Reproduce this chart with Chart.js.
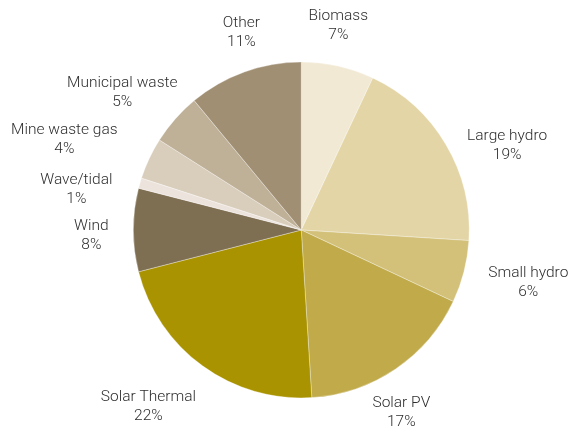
<!DOCTYPE html>
<html>
<head>
<meta charset="utf-8">
<script src="https://cdn.jsdelivr.net/npm/chart.js@4/dist/chart.umd.min.js"></script>
<style>
html,body{margin:0;padding:0;background:#fff;}
#wrap{width:569px;height:429px;position:relative;}
</style>
</head>
<body>
<div id="wrap"><canvas id="c" width="569" height="429"></canvas></div>
<script>
// ---- data ----
const categories = ["Biomass","Large hydro","Small hydro","Solar PV","Solar Thermal","Wind","Wave/tidal","Mine waste gas","Municipal waste","Other"];
const shares = [7,19,6,17,22,8,1,4,5,11];
const colours = ["#F2E9D4","#E3D5A6","#D3C17A","#C0AA4A","#AA9300","#7F6F52","#EDE3DD","#D9CDBB","#BFB098","#A08F73"];

// ---- label layout (angle shift in degrees from slice middle, distance as multiple of radius) ----
const labelAngleShift = [-2.3, 8.4, -1.3, 5.5, 4.8, -1.4, -5.9, -4.4, -3.8, 2.9];
const labelDistance   = [1.234, 1.324, 1.388, 1.241, 1.393, 1.25, 1.361, 1.509, 1.345, 1.226];

const labelPlugin = {
  id: 'outsideLabels',
  afterDatasetsDraw(chart) {
    const ctx = chart.ctx;
    const meta = chart.getDatasetMeta(0);
    ctx.save();
    ctx.font = '300 15.5px Roboto, "Liberation Sans", Arial, sans-serif';
    ctx.fillStyle = '#2e2e2e';
    ctx.textAlign = 'center';
    ctx.textBaseline = 'middle';
    meta.data.forEach((arc, i) => {
      const p = arc.getProps(['x','y','startAngle','endAngle','outerRadius'], true);
      const mid = (p.startAngle + p.endAngle) / 2 + labelAngleShift[i] * Math.PI / 180;
      const d = p.outerRadius * labelDistance[i];
      const lx = p.x + Math.cos(mid) * d;
      const ly = p.y + Math.sin(mid) * d;
      ctx.fillText(categories[i], lx, ly - 9.5);
      ctx.fillText(shares[i] + '%', lx, ly + 9.5);
    });
    ctx.restore();
  }
};

new Chart(document.getElementById('c'), {
  type: 'pie',
  data: {
    labels: categories,
    datasets: [{
      data: shares,
      backgroundColor: colours,
      borderColor: 'rgba(255,255,255,0.55)',
      borderWidth: 0.6
    }]
  },
  options: {
    responsive: false,
    animation: false,
    layout: { padding: { left: 133, right: 99.5, top: 61.5, bottom: 30.5 } },
    plugins: { legend: { display: false }, tooltip: { enabled: false } }
  },
  plugins: [labelPlugin]
});
</script>
</body>
</html>
